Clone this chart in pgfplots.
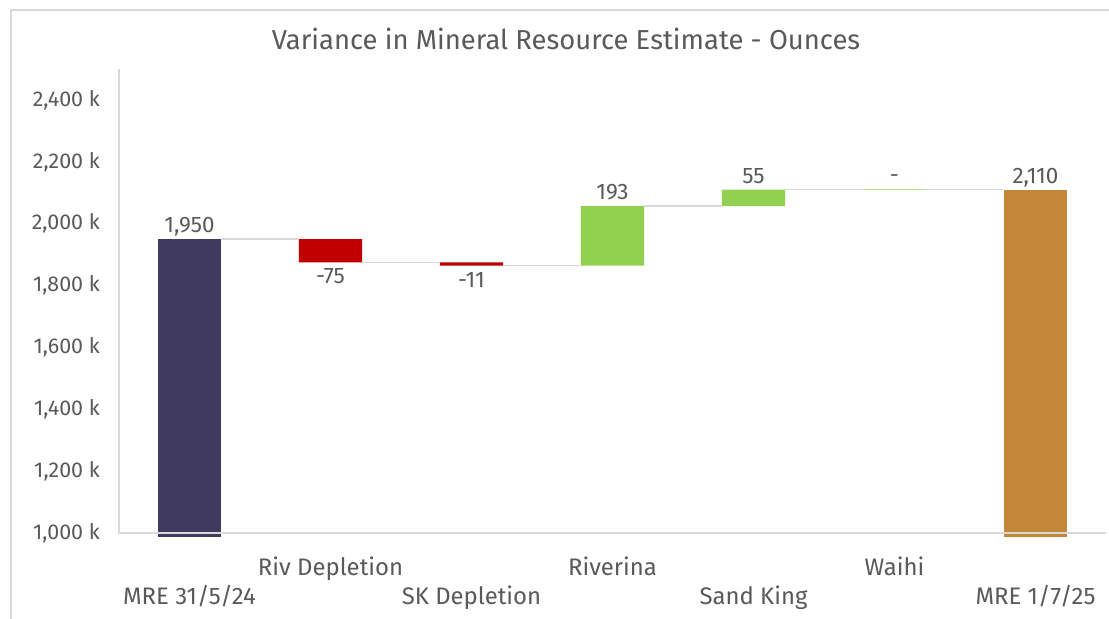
\documentclass[border=0pt]{standalone}
\usepackage{pgfplots}
\pgfplotsset{compat=1.18}
\usepackage{fontspec}
\setmainfont{Fira Sans}
\definecolor{txt}{HTML}{595959}
\definecolor{gridc}{HTML}{D9D9D9}
\definecolor{barnavy}{HTML}{403A60}
\definecolor{barred}{HTML}{C00000}
\definecolor{bargreen}{HTML}{92D050}
\definecolor{barorange}{HTML}{C4873A}
\pgfplotsset{common/.style={
  at={(119bp,82bp)}, anchor=south west, scale only axis,
  width=987bp, height=468bp,
  xmin=-0.5, xmax=6.5, ymin=987, ymax=2500, clip=false}}
\begin{document}
\begin{tikzpicture}
\useasboundingbox (0,0) rectangle (1109bp,619bp);
\draw[gridc, line width=1.2bp] (11bp,-10bp) rectangle (1125bp,609bp);
\node[text=txt, font=\fontsize{27.5}{32}\selectfont, anchor=base] at (566bp,569bp) {Variance in Mineral Resource Estimate - Ounces};
\begin{axis}[common, ybar stacked, bar width=0.447,
  axis line style={draw=none}, major tick length=0pt,
  ytick={1000,1200,...,2400},
  yticklabel={\pgfmathprintnumber[assume math mode=true,1000 sep={,}]{\tick} k},
  yticklabel style={anchor=east, inner sep=0pt, xshift=-19bp, text=txt, font=\fontsize{21.5}{25}\selectfont},
  xtick={1,3,5}, xticklabels={Riv Depletion,Riverina,Waihi},
  xticklabel style={anchor=base, inner sep=0pt, yshift=-38bp, text=txt, font=\fontsize{24}{28}\selectfont},
  extra x ticks={0,2,4,6}, extra x tick labels={MRE 31/5/24,SK Depletion,Sand King,MRE 1/7/25},
  extra x tick style={xticklabel style={yshift=-29bp}},
]
% invisible base
\addplot[draw=none, fill=none] coordinates {(0,987)(1,1875)(2,1864)(3,1864)(4,2057)(5,2110)(6,987)};
\addplot[draw=none, fill=barnavy] coordinates {(0,963)(1,0)(2,0)(3,0)(4,0)(5,0)(6,0)};
\addplot[draw=none, fill=barred] coordinates {(0,0)(1,75)(2,11)(3,0)(4,0)(5,0)(6,0)};
\addplot[draw=none, fill=bargreen] coordinates {(0,0)(1,0)(2,0)(3,193)(4,53)(5,2)(6,0)};
\addplot[draw=none, fill=barorange] coordinates {(0,0)(1,0)(2,0)(3,0)(4,0)(5,0)(6,1123)};
\end{axis}
\begin{axis}[common, hide axis]
\addplot[gridc, line width=1.5bp, mark=none] coordinates {(-0.5,2500)(-0.5,1000)(6.5,1000)};
\addplot[gridc, line width=1.5bp, mark=none] coordinates {(0.2235,1950)(0.7765,1950)};
\addplot[gridc, line width=1.5bp, mark=none] coordinates {(1.2235,1875)(1.7765,1875)};
\addplot[gridc, line width=1.5bp, mark=none] coordinates {(2.2235,1864)(2.7765,1864)};
\addplot[gridc, line width=1.5bp, mark=none] coordinates {(3.2235,2057)(3.7765,2057)};
\addplot[gridc, line width=1.5bp, mark=none] coordinates {(4.2235,2110)(4.7765,2110)};
\addplot[gridc, line width=1.5bp, mark=none] coordinates {(5.2235,2110)(5.7765,2110)};
\addplot[draw=none, mark=none, nodes near coords, point meta=explicit symbolic,
  nodes near coords style={anchor=base, inner sep=0pt, yshift=6.5bp, text=txt, font=\fontsize{22.5}{26}\selectfont}]
  coordinates {(0,1950)[1,950] (3,2057)[193] (4,2110)[55] (5,2112)[-] (6,2110)[2,110]};
\addplot[draw=none, mark=none, nodes near coords, point meta=explicit symbolic,
  nodes near coords style={anchor=base, inner sep=0pt, yshift=-21.5bp, text=txt, font=\fontsize{22.5}{26}\selectfont}]
  coordinates {(1,1875)[-75] (2,1864)[-11]};
\end{axis}
\end{tikzpicture}
\end{document}
